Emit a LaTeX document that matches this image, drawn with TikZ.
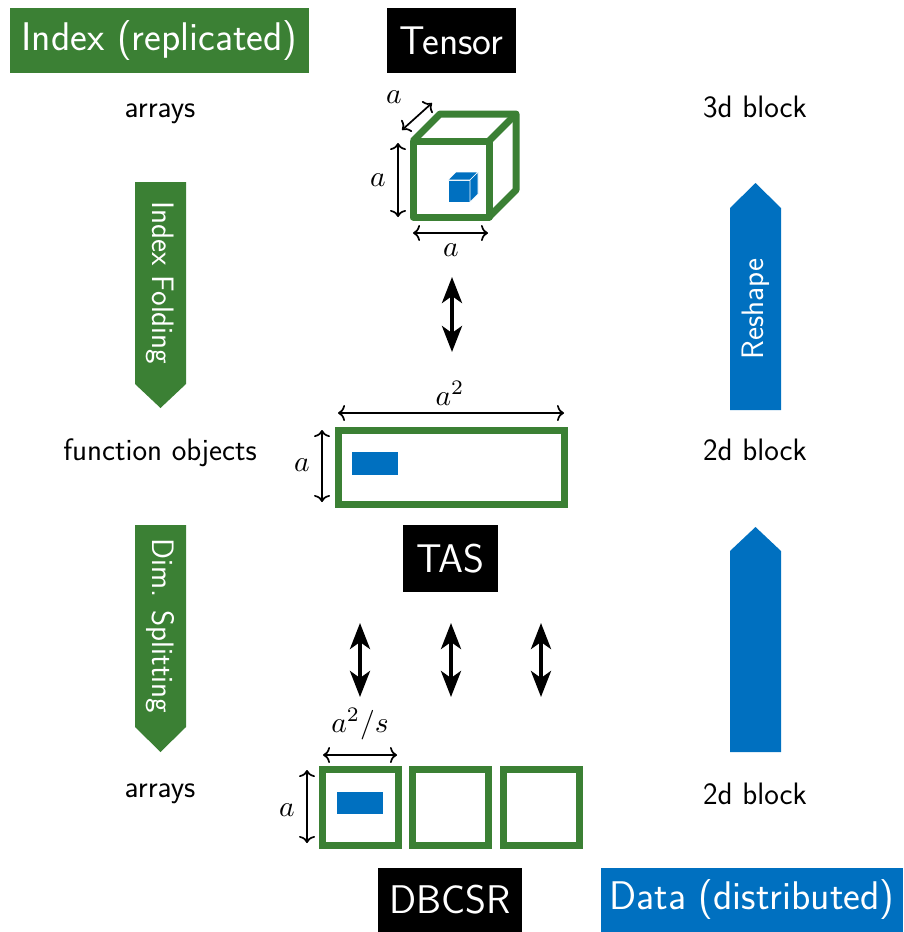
\documentclass[tikz,border=0pt]{standalone}
\usepackage{fontspec}
\usetikzlibrary{arrows.meta}
\definecolor{idxgreen}{RGB}{59,128,52}
\definecolor{datablue}{RGB}{0,112,192}
\newcommand{\txtsize}{\fontsize{31}{36}\selectfont}
\newcommand{\boxsize}{\fontsize{40}{46}\selectfont}

\begin{document}
\begin{tikzpicture}[x=1pt,y=-1pt,line width=1.5pt,
  txt/.style={font=\sffamily\txtsize,inner sep=0pt,anchor=base},
  dimlbl/.style={scale=2.95,inner sep=0pt},
  titlebox/.style={font=\sffamily\boxsize,text=white,inner sep=0pt,minimum height=65pt},
  blk/.style={draw=idxgreen,line width=7pt},
  dimarr/.style={{To[length=7pt,width=16pt]}-{To[length=7pt,width=16pt]},line width=1.7pt},
  maparr/.style={{Stealth[length=26pt,width=20pt,inset=7pt]}-{Stealth[length=26pt,width=20pt,inset=7pt]},line width=4pt},
  arrtext/.style={font=\sffamily\txtsize,text=white,inner sep=0pt}]
\useasboundingbox (0,0) rectangle (903,932);
%%%%%%%%%%%%%%%%%%%% the headings %%%%%%%%%%%%%%%%%%%%
\node[titlebox,fill=idxgreen,minimum width=299pt] (idxhead) at (159.5,40.5) {Index (replicated)};
\node[titlebox,fill=black,minimum width=129pt] (tensorhead) at (451.5,40.5) {Tensor};
\node[titlebox,fill=black,minimum width=95pt,minimum height=67pt] (tashead) at (450.5,558.5) {TAS};
\node[titlebox,fill=black,minimum width=144pt,minimum height=64pt] (dbcsrhead) at (450,900) {DBCSR};
\node[titlebox,fill=datablue,minimum width=302pt,minimum height=64pt] (datahead) at (752,900) {Data (distributed)};
%%%%%%%%%%%%%%%%%%%% left and right columns %%%%%%%%%%%%%%%%%%%%
\node[txt] (arr1) at (160,117) {arrays};
\node[txt] (fobj) at (160,460) {function objects};
\node[txt] (arr2) at (160,797) {arrays};
\node[txt] (blk3d) at (755,117) {3d block};
\node[txt] (blk2d) at (755,460) {2d block};
\node[txt] (blk2db) at (755,804) {2d block};
\fill[idxgreen] (135,182) -- (186,182) -- (186,384) -- (160.5,408) -- (135,384) -- cycle;
\node[arrtext,rotate=-90] (folding) at (160.5,283) {Index Folding};
\fill[idxgreen] (135,525) -- (186,525) -- (186,727) -- (160.5,752) -- (135,727) -- cycle;
\node[arrtext,rotate=-90] (splitting) at (160.5,626) {Dim. Splitting};
\fill[datablue] (730,410) -- (781,410) -- (781,208) -- (755.5,183) -- (730,208) -- cycle;
\node[arrtext,rotate=90] (reshape) at (755.5,309) {Reshape};
\fill[datablue] (730,752) -- (781,752) -- (781,551) -- (755.5,527) -- (730,551) -- cycle;
%%%%%%%%%%%%%%%%%%%% the tensor cube %%%%%%%%%%%%%%%%%%%%
\coordinate (f1) at (413,141); \coordinate (f2) at (489,141);
\coordinate (f3) at (489,217); \coordinate (f4) at (413,217);
\coordinate (b1) at (440,114); \coordinate (b2) at (516,114);
\coordinate (b3) at (516,190);
\draw[blk,line join=round] (f1) -- (f2) -- (f3) -- (f4) -- cycle;
\draw[blk,line join=round] (f1) -- (b1) -- (b2) -- (b3) -- (f3);
\draw[blk,line join=round] (f2) -- (b2);
\fill[datablue,draw=white,line width=0.6pt] (448,180) rectangle (470,202);
\fill[datablue,draw=white,line width=0.6pt] (448,180) -- (456,172) -- (478,172) -- (470,180) -- cycle;
\fill[datablue,draw=white,line width=0.6pt] (470,180) -- (478,172) -- (478,194) -- (470,202) -- cycle;
\coordinate (dd1) at (402,130); \coordinate (dd2) at (432,103);
\coordinate (dv1) at (398,143); \coordinate (dv2) at (398,217);
\coordinate (dh1) at (413,233); \coordinate (dh2) at (488,233);
\draw[dimarr] (dd1) -- (dd2);
\draw[dimarr] (dv1) -- (dv2);
\draw[dimarr] (dh1) -- (dh2);
\node[dimlbl] (cubed) at (394,97) {$a$};
\node[dimlbl] (cubev) at (378,180) {$a$};
\node[dimlbl] (cubeh) at (451,250) {$a$};
\coordinate (m1a) at (452,277); \coordinate (m1b) at (452,352);
\draw[maparr] (m1a) -- (m1b);
%%%%%%%%%%%%%%%%%%%% the TAS matrix %%%%%%%%%%%%%%%%%%%%
\draw[blk] (338,430) rectangle (564,504);
\fill[datablue] (352,452) rectangle (398,475);
\coordinate (rh1) at (338,413); \coordinate (rh2) at (564,413);
\coordinate (rv1) at (322,430); \coordinate (rv2) at (322,502);
\draw[dimarr] (rh1) -- (rh2);
\draw[dimarr] (rv1) -- (rv2);
\node[dimlbl] (recth) at (450,393) {$a^2$};
\node[dimlbl] (rectv) at (302,465) {$a$};
\foreach \x [count=\i] in {360,451,541} {
  \coordinate (m2a\i) at (\x,623); \coordinate (m2b\i) at (\x,697);
  \draw[maparr] (m2a\i) -- (m2b\i);
}
%%%%%%%%%%%%%%%%%%%% the DBCSR blocks %%%%%%%%%%%%%%%%%%%%
\foreach \x in {322.5,412.5,503.5}
  \draw[blk] (\x,769.5) rectangle ++(76,76);
\fill[datablue] (337,792) rectangle (383,814);
\coordinate (sh1) at (323,755); \coordinate (sh2) at (397,755);
\coordinate (sv1) at (307,770); \coordinate (sv2) at (307,843);
\draw[dimarr] (sh1) -- (sh2);
\draw[dimarr] (sv1) -- (sv2);
\node[dimlbl] (sqh) at (360,724) {$a^2/s$};
\node[dimlbl] (sqv) at (287,810) {$a$};
\end{tikzpicture}
\end{document}
